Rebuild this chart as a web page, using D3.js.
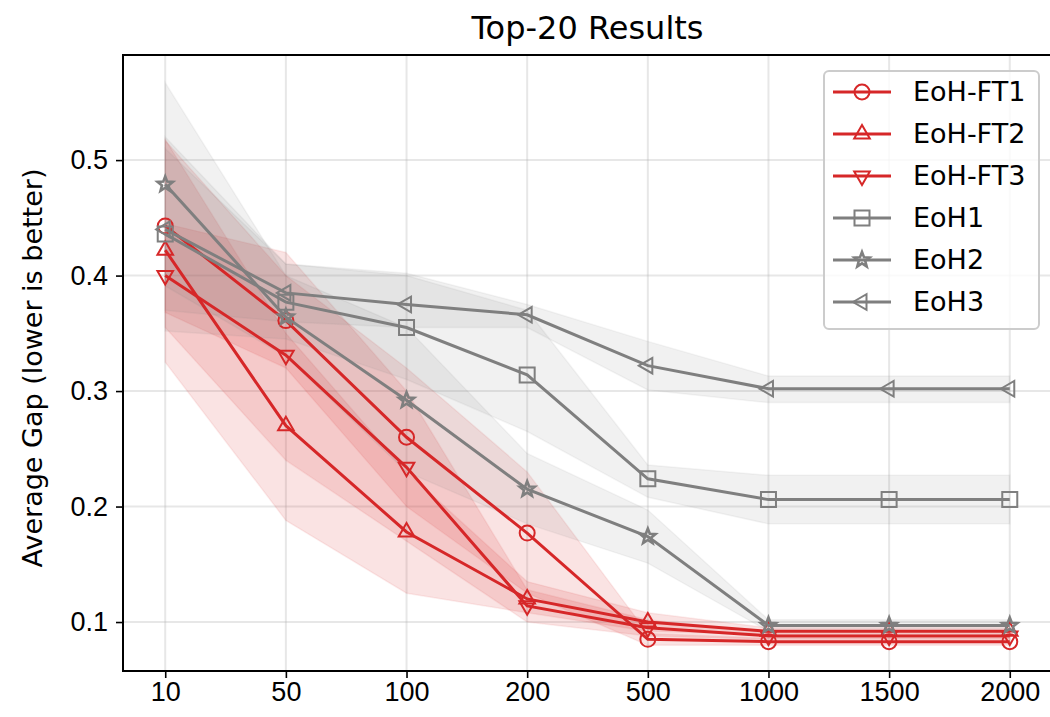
<!DOCTYPE html>
<html>
<head>
<meta charset="utf-8">
<script src="https://cdn.jsdelivr.net/npm/d3@7"></script>
<style>
  body { margin: 0; background: #fff; }
  svg { font-family: "DejaVu Sans", sans-serif; }
  .axis path, .axis line { stroke: #000; }
  .axis text { fill: #000; }
</style>
</head>
<body>
<svg id="chart"></svg>
<script>
const WIDTH = 1050;
const HEIGHT = 717;
const margin = {top: 55, right: -2, bottom: 46, left: 123};

// x categories (evaluated sample counts)
const categories = ['10', '50', '100', '200', '500', '1000', '1500', '2000'];
const yTicks = [0.1, 0.2, 0.3, 0.4, 0.5];

// means
const ft1Mean = [0.443, 0.361, 0.260, 0.177, 0.085, 0.083, 0.083, 0.083];
const ft2Mean = [0.422, 0.270, 0.178, 0.120, 0.100, 0.092, 0.092, 0.092];
const ft3Mean = [0.400, 0.331, 0.234, 0.114, 0.095, 0.088, 0.088, 0.088];
const eoh1Mean = [0.436, 0.377, 0.355, 0.314, 0.224, 0.206, 0.206, 0.206];
const eoh2Mean = [0.479, 0.364, 0.292, 0.215, 0.174, 0.097, 0.097, 0.097];
const eoh3Mean = [0.440, 0.385, 0.375, 0.366, 0.322, 0.302, 0.302, 0.302];

// shaded band lower / upper
const ft1Low = [0.368, 0.320, 0.200, 0.125, 0.080, 0.080, 0.080, 0.080];
const ft1High = [0.517, 0.400, 0.320, 0.230, 0.090, 0.086, 0.086, 0.086];
const ft2Low = [0.325, 0.188, 0.125, 0.108, 0.092, 0.089, 0.089, 0.089];
const ft2High = [0.518, 0.350, 0.230, 0.135, 0.108, 0.095, 0.095, 0.095];
const ft3Low = [0.355, 0.240, 0.170, 0.100, 0.088, 0.085, 0.085, 0.085];
const ft3High = [0.445, 0.420, 0.300, 0.128, 0.102, 0.091, 0.091, 0.091];
const eoh1Low = [0.352, 0.345, 0.310, 0.265, 0.208, 0.185, 0.185, 0.185];
const eoh1High = [0.520, 0.410, 0.400, 0.370, 0.236, 0.227, 0.227, 0.227];
const eoh2Low = [0.391, 0.330, 0.230, 0.185, 0.151, 0.092, 0.092, 0.092];
const eoh2High = [0.567, 0.400, 0.355, 0.246, 0.197, 0.102, 0.102, 0.102];
const eoh3Low = [0.370, 0.360, 0.355, 0.355, 0.301, 0.290, 0.290, 0.290];
const eoh3High = [0.510, 0.410, 0.402, 0.375, 0.343, 0.313, 0.313, 0.313];

const RED = '#d62728';
const GRAY = '#7f7f7f';

const series = [
    {name: 'EoH-FT1', mean: ft1Mean, lo: ft1Low, hi: ft1High, color: RED, marker: 'circle'},
    {name: 'EoH-FT2', mean: ft2Mean, lo: ft2Low, hi: ft2High, color: RED, marker: 'triUp'},
    {name: 'EoH-FT3', mean: ft3Mean, lo: ft3Low, hi: ft3High, color: RED, marker: 'triDown'},
    {name: 'EoH1', mean: eoh1Mean, lo: eoh1Low, hi: eoh1High, color: GRAY, marker: 'square'},
    {name: 'EoH2', mean: eoh2Mean, lo: eoh2Low, hi: eoh2High, color: GRAY, marker: 'star'},
    {name: 'EoH3', mean: eoh3Mean, lo: eoh3Low, hi: eoh3High, color: GRAY, marker: 'triLeft'},
];

// marker outlines in pixels, centred on 0,0
const markerPath = kind => {
    if (kind === 'circle') {
        const r = 7.5;
        return `M${r},0A${r},${r} 0 1,1 ${-r},0A${r},${r} 0 1,1 ${r},0Z`;
    }
    if (kind === 'square') return 'M-7.5,-7.5H7.5V7.5H-7.5Z';
    const tri = (angle) => {
        const r = 9;
        const pts = [0, 1, 2].map(k => {
            const a = angle + k * 2 * Math.PI / 3;
            return [r * Math.cos(a), r * Math.sin(a)];
        });
        return 'M' + pts.map(p => p.join(',')).join('L') + 'Z';
    };
    if (kind === 'triUp') return tri(-Math.PI / 2);
    if (kind === 'triDown') return tri(Math.PI / 2);
    if (kind === 'triLeft') return tri(Math.PI);
    if (kind === 'star') {
        const pts = [];
        for (let k = 0; k < 10; k++) {
            const r = k % 2 === 0 ? 8 : 3.4;
            const a = -Math.PI / 2 + k * Math.PI / 5;
            pts.push([r * Math.cos(a), r * Math.sin(a)]);
        }
        return 'M' + pts.map(p => p.join(',')).join('L') + 'Z';
    }
};

const svg = d3.select('#chart').attr('width', WIDTH).attr('height', HEIGHT);

const x = d3.scaleLinear()
    .domain([-0.35, categories.length - 1 + 0.35])
    .range([margin.left, WIDTH - margin.right]);

const y = d3.scaleLinear()
    .domain([0.0576, 0.591])
    .range([HEIGHT - margin.bottom, margin.top]);

const plotBottom = HEIGHT - margin.bottom;

// grid
const grid = svg.append('g');
grid.selectAll('.vgrid').data(categories).enter().append('line')
    .attr('x1', (d, i) => x(i)).attr('x2', (d, i) => x(i))
    .attr('y1', margin.top).attr('y2', plotBottom)
    .attr('stroke', '#b0b0b0').attr('stroke-opacity', 0.3).attr('stroke-width', 2);
grid.selectAll('.hgrid').data(yTicks).enter().append('line')
    .attr('x1', margin.left).attr('x2', WIDTH - margin.right)
    .attr('y1', d => y(d)).attr('y2', d => y(d))
    .attr('stroke', '#b0b0b0').attr('stroke-opacity', 0.3).attr('stroke-width', 2);

// bands
const area = d3.area()
    .x(d => x(d.i))
    .y0(d => y(d.lo))
    .y1(d => y(d.hi));

svg.append('g').selectAll('path').data(series).enter().append('path')
    .attr('d', s => area(s.mean.map((m, i) => ({i, lo: s.lo[i], hi: s.hi[i]}))))
    .attr('fill', s => s.color).attr('fill-opacity', s => s.color === RED ? 0.13 : 0.11)
    .attr('stroke', s => s.color).attr('stroke-opacity', 0.08).attr('stroke-width', 1.5);

// lines + markers
const line = d3.line().x((d, i) => x(i)).y(d => y(d));
series.forEach(s => {
    const g = svg.append('g');
    g.append('path')
        .attr('d', line(s.mean))
        .attr('fill', 'none').attr('stroke', s.color).attr('stroke-width', 3);
    g.selectAll('.mk').data(s.mean).enter().append('path')
        .attr('transform', (d, i) => `translate(${x(i)},${y(d)})`)
        .attr('d', markerPath(s.marker))
        .attr('fill', 'none').attr('stroke', s.color)
        .attr('stroke-width', s.marker === 'star' ? 2.6 : 2);
});

// axes
const xAxis = d3.axisBottom(x)
    .tickValues(d3.range(categories.length))
    .tickFormat(i => categories[i])
    .tickSize(7).tickPadding(4);
svg.append('g').attr('class', 'axis')
    .attr('transform', `translate(0,${plotBottom})`)
    .call(xAxis)
    .call(g => g.select('.domain').remove())
    .selectAll('text').style('font-size', '27px');

const yAxis = d3.axisLeft(y)
    .tickValues(yTicks)
    .tickFormat(d3.format('.1f'))
    .tickSize(7).tickPadding(8);
svg.append('g').attr('class', 'axis')
    .attr('transform', `translate(${margin.left},0)`)
    .call(yAxis)
    .call(g => g.select('.domain').remove())
    .selectAll('text').style('font-size', '27px');

svg.selectAll('.axis .tick line').attr('stroke-width', 1.6);

// frame
svg.append('rect')
    .attr('x', margin.left).attr('y', margin.top)
    .attr('width', WIDTH - margin.right - margin.left)
    .attr('height', plotBottom - margin.top)
    .attr('fill', 'none').attr('stroke', '#000').attr('stroke-width', 2);

// title + label
svg.append('text')
    .attr('x', (margin.left + WIDTH - margin.right) / 2).attr('y', 39)
    .attr('text-anchor', 'middle').style('font-size', '32px')
    .text('Top-20 Results');

svg.append('text')
    .attr('transform', 'rotate(-90)')
    .attr('x', -368).attr('y', 42)
    .attr('text-anchor', 'middle').style('font-size', '27px')
    .text('Average Gap (lower is better)');

// legend
const legend = svg.append('g');
legend.append('rect')
    .attr('x', 824).attr('y', 71).attr('width', 215).attr('height', 258)
    .attr('rx', 5).attr('fill', '#fff').attr('fill-opacity', 0.8)
    .attr('stroke', '#cccccc').attr('stroke-width', 2);

series.forEach((s, k) => {
    const cy = 92 + k * 42;
    legend.append('line')
        .attr('x1', 833).attr('x2', 891).attr('y1', cy).attr('y2', cy)
        .attr('stroke', s.color).attr('stroke-width', 3);
    legend.append('path')
        .attr('transform', `translate(862,${cy})`)
        .attr('d', markerPath(s.marker))
        .attr('fill', 'none').attr('stroke', s.color)
        .attr('stroke-width', s.marker === 'star' ? 2.6 : 2);
    legend.append('text')
        .attr('x', 913).attr('y', cy + 9)
        .style('font-size', '27px')
        .text(s.name);
});
</script>
</body>
</html>
